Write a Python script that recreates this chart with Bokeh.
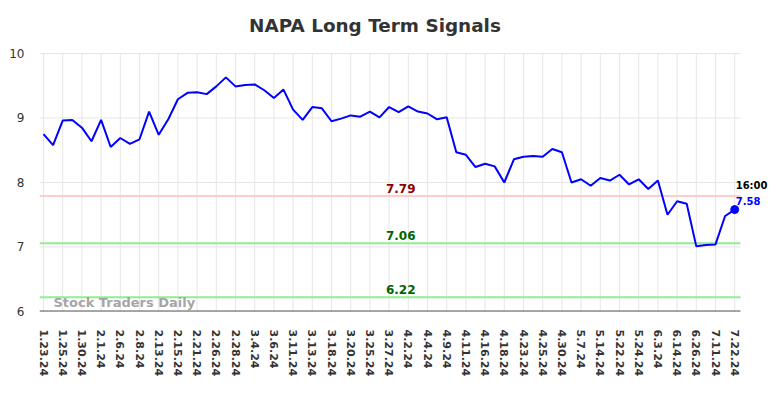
from bokeh.plotting import figure
from bokeh.models import Range1d, FixedTicker, Label
from bokeh.embed import file_html
from bokeh.resources import INLINE

dates = [
    "1.23.24", "1.24.24", "1.25.24", "1.26.24", "1.30.24", "1.31.24", "2.1.24", "2.5.24",
    "2.6.24", "2.7.24", "2.8.24", "2.12.24", "2.13.24", "2.14.24", "2.15.24", "2.16.24",
    "2.21.24", "2.22.24", "2.26.24", "2.27.24", "2.28.24", "2.29.24", "3.4.24", "3.5.24",
    "3.6.24", "3.7.24", "3.11.24", "3.12.24", "3.13.24", "3.14.24", "3.18.24", "3.19.24",
    "3.20.24", "3.21.24", "3.25.24", "3.26.24", "3.27.24", "3.28.24", "4.2.24", "4.3.24",
    "4.4.24", "4.5.24", "4.9.24", "4.10.24", "4.11.24", "4.12.24", "4.16.24", "4.17.24",
    "4.18.24", "4.19.24", "4.23.24", "4.24.24", "4.25.24", "4.26.24", "4.30.24", "5.1.24",
    "5.7.24", "5.9.24", "5.14.24", "5.16.24", "5.22.24", "5.23.24", "5.24.24", "5.28.24",
    "6.3.24", "6.7.24", "6.14.24", "6.20.24", "6.26.24", "7.2.24", "7.11.24", "7.16.24",
    "7.22.24",
]
prices = [
    8.75, 8.58, 8.96, 8.97, 8.85, 8.64, 8.97, 8.55, 8.69, 8.60,
    8.67, 9.10, 8.74, 8.98, 9.29, 9.39, 9.40, 9.37, 9.49, 9.63,
    9.49, 9.51, 9.52, 9.43, 9.31, 9.44, 9.13, 8.97, 9.17, 9.15,
    8.95, 8.99, 9.04, 9.02, 9.10, 9.01, 9.17, 9.09, 9.18, 9.10,
    9.07, 8.98, 9.01, 8.47, 8.43, 8.24, 8.29, 8.25, 8.00, 8.36,
    8.40, 8.41, 8.40, 8.52, 8.47, 8.00, 8.05, 7.95, 8.07, 8.03,
    8.12, 7.97, 8.05, 7.90, 8.03, 7.50, 7.71, 7.67, 7.01, 7.03,
    7.04, 7.48, 7.58,
]
y_ticks = [6, 7, 8, 9, 10]
resistance = 7.79
supports = [7.06, 6.22]
last_time = "16:00"
title = "NAPA Long Term Signals"

xs = list(range(len(dates)))
label_idx = [i for i in xs if i % 2 == 0]
x_lo = -0.4167
x_hi = len(dates) - 0.4   # visible plot-area right edge
x_frame_hi = 76.354        # frame extended so the last-value labels are not clipped
y_lo, y_hi = y_ticks[0], y_ticks[-1]
y_frame_hi = 10.8217       # frame extended upward to hold the title

p = figure(width=776, height=390, output_backend="svg", toolbar_location=None,
           x_range=Range1d(x_lo, x_frame_hi), y_range=Range1d(y_lo, y_frame_hi),
           min_border_left=39, min_border_right=0, min_border_top=0, min_border_bottom=79)
p.outline_line_color = None
p.background_fill_color = "white"

p.xaxis.ticker = FixedTicker(ticks=label_idx)
p.xaxis.major_label_overrides = {i: dates[i] for i in label_idx}
p.xaxis.major_label_orientation = "vertical"
p.xaxis.major_label_text_font = "DejaVu Sans"
p.xaxis.major_label_text_font_size = "11px"
p.xaxis.major_label_text_font_style = "bold"
p.xaxis.major_label_text_color = "#333333"
p.xaxis.major_tick_out = 0
p.xaxis.major_tick_in = 0
p.xaxis.minor_tick_out = 0
p.xaxis.minor_tick_in = 0
p.xaxis.major_label_standoff = 18
p.xaxis.axis_line_color = None

p.yaxis.ticker = FixedTicker(ticks=y_ticks)
p.yaxis.major_label_text_font = "DejaVu Sans"
p.yaxis.major_label_text_font_size = "12px"
p.yaxis.major_label_text_color = "#333333"
p.yaxis.major_tick_out = 0
p.yaxis.major_tick_in = 0
p.yaxis.minor_tick_out = 0
p.yaxis.minor_tick_in = 0
p.yaxis.major_label_standoff = 15
p.yaxis.axis_line_color = None

p.xgrid.grid_line_color = None
p.ygrid.grid_line_color = None

# grid lines limited to the plot area
n = len(y_ticks)
p.segment(x0=[x_lo] * n, x1=[x_hi] * n, y0=y_ticks, y1=y_ticks,
          line_color="#e6e6e6", line_width=1)
m = len(label_idx)
p.segment(x0=label_idx, x1=label_idx, y0=[y_lo] * m, y1=[y_hi] * m,
          line_color="#e6e6e6", line_width=1)

# signal lines
p.segment(x0=[x_lo], x1=[x_hi], y0=[resistance], y1=[resistance],
          line_color="#ffcccc", line_width=2)
p.segment(x0=[x_lo] * len(supports), x1=[x_hi] * len(supports), y0=supports, y1=supports,
          line_color="#90ee90", line_width=2)

# bottom axis line
p.segment(x0=[x_lo], x1=[x_hi], y0=[y_lo], y1=[y_lo],
          line_color="#555555", line_width=2)

p.line(xs, prices, line_color="#0000ff", line_width=2)
p.scatter([xs[-1]], [prices[-1]], size=8, color="#0000ff")

# title
p.add_layout(Label(x=34.53, y=y_hi, y_offset=17, text=title,
                   text_align="center", text_baseline="bottom",
                   text_font="DejaVu Sans", text_font_size="18.4px", text_font_style="bold",
                   text_color="#333333"))

lab_x = 37
p.add_layout(Label(x=lab_x, y=resistance, y_offset=3.5, x_offset=2, text=f"{resistance:.2f}",
                   text_align="center", text_baseline="bottom",
                   text_font="DejaVu Sans", text_font_size="12px", text_font_style="bold",
                   text_color="#8b0000"))
for s in supports:
    p.add_layout(Label(x=lab_x, y=s, y_offset=3.5, x_offset=2, text=f"{s:.2f}",
                       text_align="center", text_baseline="bottom",
                       text_font="DejaVu Sans", text_font_size="12px", text_font_style="bold",
                       text_color="#006400"))

p.add_layout(Label(x=xs[-1], y=prices[-1], x_offset=1, y_offset=5, text=f"{prices[-1]:.2f}",
                   text_align="left", text_baseline="bottom",
                   text_font="DejaVu Sans", text_font_size="10px", text_font_style="bold",
                   text_color="#0000ff"))
p.add_layout(Label(x=xs[-1], y=prices[-1], x_offset=1, y_offset=19, text=last_time,
                   text_align="left", text_baseline="bottom",
                   text_font="DejaVu Sans", text_font_size="10px", text_font_style="bold",
                   text_color="#000000"))

p.add_layout(Label(x=1.04, y=y_lo, y_offset=2, text="Stock Traders Daily",
                   text_align="left", text_baseline="bottom",
                   text_font="DejaVu Sans", text_font_size="13px", text_font_style="bold",
                   text_color="#999999", text_alpha=0.9))

open("out.html", "w").write(file_html(p, INLINE))
